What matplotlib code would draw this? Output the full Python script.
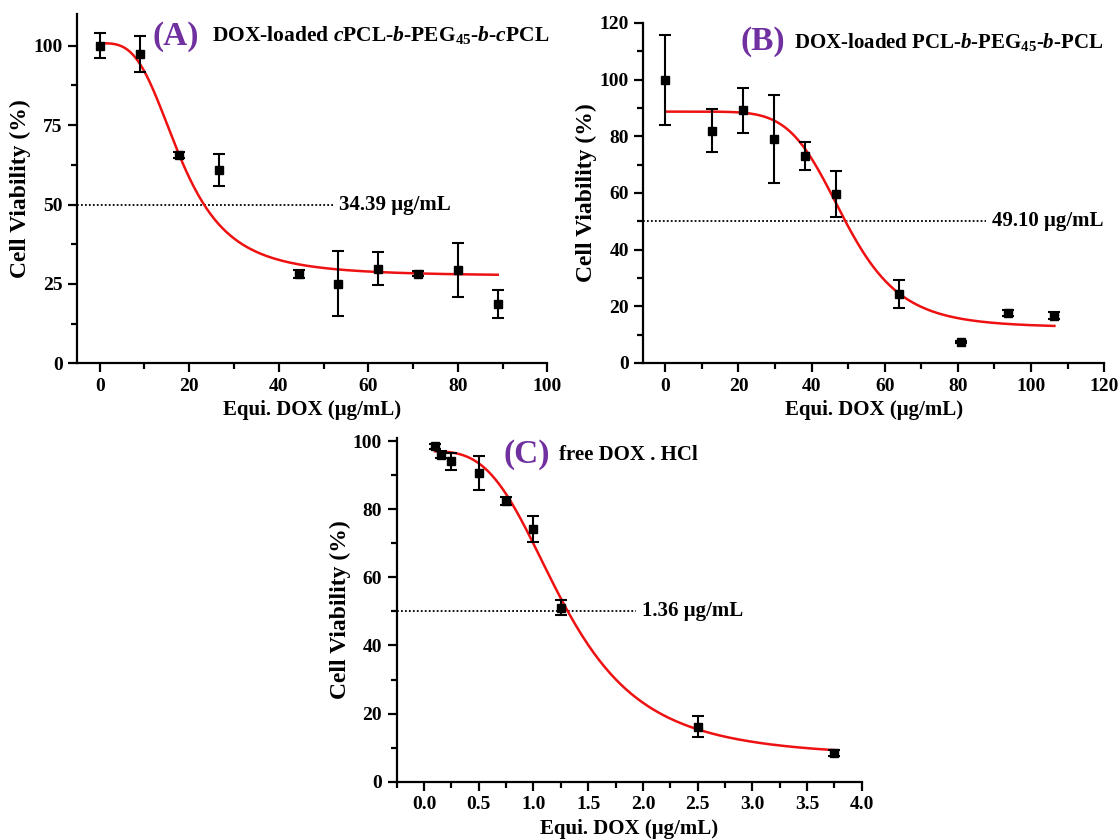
import numpy as np
import matplotlib.pyplot as plt
from matplotlib.ticker import MultipleLocator

plt.rcParams['font.family'] = ['Liberation Serif', 'DejaVu Serif']
plt.rcParams['font.weight'] = 'bold'
plt.rcParams['mathtext.fontset'] = 'custom'
plt.rcParams['mathtext.rm'] = 'Liberation Serif:bold'
plt.rcParams['mathtext.bf'] = 'Liberation Serif:bold'
plt.rcParams['mathtext.it'] = 'Liberation Serif:italic:bold'
plt.rcParams['mathtext.default'] = 'bf'

# panel A: DOX-loaded cPCL-b-PEG45-b-cPCL
dose_A = [0, 8.9, 17.8, 26.7, 44.5, 53.3, 62.2, 71.1, 80.0, 88.9]
via_A = [100.0, 97.5, 65.6, 60.9, 28.2, 25.1, 29.8, 28.2, 29.3, 18.7]
err_A = [4.0, 5.7, 0.8, 5.0, 1.3, 10.2, 5.1, 0.8, 8.5, 4.5]
fit_A = [100.8, 27.5, 18.2, 3.3]   # top, bottom, x0, slope
ic50_A = '34.39 μg/mL'

# panel B: DOX-loaded PCL-b-PEG45-b-PCL
dose_B = [0, 12.8, 21.3, 29.8, 38.3, 46.8, 63.8, 80.9, 93.6, 106.4]
via_B = [99.8, 82.0, 89.2, 79.0, 73.1, 59.6, 24.4, 7.4, 17.6, 16.7]
err_B = [15.8, 7.6, 8.0, 15.5, 5.0, 8.0, 5.0, 0.5, 1.0, 1.3]
fit_B = [88.7, 12.5, 49.0, 6.3]
ic50_B = '49.10 μg/mL'

# panel C: free DOX . HCl
dose_C = [0.1, 0.156, 0.25, 0.5, 0.75, 1.0, 1.25, 2.5, 3.75]
via_C = [98.4, 96.0, 94.1, 90.7, 82.4, 74.1, 51.0, 16.2, 8.4]
err_C = [0.8, 1.0, 2.5, 5.0, 1.3, 3.8, 2.2, 3.2, 0.8]
fit_C = [97.0, 7.0, 1.28, 3.4]
ic50_C = '1.36 μg/mL'

titles = ['(A)', '(B)', '(C)']
subtitles = [r'DOX-loaded $\mathit{c}$PCL-$\mathit{b}$-PEG$_{45}$-$\mathit{b}$-$\mathit{c}$PCL',
             r'DOX-loaded PCL-$\mathit{b}$-PEG$_{45}$-$\mathit{b}$-PCL',
             'free DOX . HCl']


def logistic(x, p):
    return p[1] + (p[0] - p[1]) / (1 + (x / p[2]) ** p[3])


fig = plt.figure(figsize=(11.2, 8.4), dpi=100)
axA = fig.add_axes([0.069, 0.5675, 0.4198, 0.4158])
axB = fig.add_axes([0.5745, 0.5679, 0.4113, 0.4048])
axC = fig.add_axes([0.3542, 0.0694, 0.4152, 0.4096])

panels = [
    (axA, dose_A, via_A, err_A, fit_A, ic50_A, (-5, 100), (0, 110), 20, 10, 25, 12.5, 52, 53.5),
    (axB, dose_B, via_B, err_B, fit_B, ic50_B, (-6, 120), (0, 120), 20, 10, 20, 10, 87.8, 89.3),
    (axC, dose_C, via_C, err_C, fit_C, ic50_C, (-0.25, 4.0), (0, 101), 0.5, 0.25, 20, 10, 1.94, 1.99),
]
# (title x, title y, subtitle x, subtitle y, subtitle size) in axes fraction
title_pos = [(0.21, 0.937, 0.287, 0.94, 15.5), (0.26, 0.944, 0.326, 0.944, 15),
             (0.28, 0.95, 0.35, 0.95, 15)]

for i, (ax, x, y, e, fit, ic, xl, yl, xmaj, xmin, ymaj, ymin, dot_end, txt_x) in enumerate(panels):
    xs = np.linspace(x[0], x[-1], 300)
    ax.plot(xs, logistic(np.maximum(xs, 1e-9), fit), color='#ee1111', lw=1.8, zorder=2)
    ax.errorbar(x, y, yerr=e, fmt='s', color='black', ms=5.5, elinewidth=1.5,
                capsize=4, capthick=1.5, zorder=3)
    ax.plot([xl[0], dot_end], [50, 50], ls=(0, (1, 1.2)), color='black', lw=1.3, zorder=1)
    ax.text(txt_x, 50, ic, fontsize=15, fontweight='bold', va='center', ha='left')
    ax.set_xlim(*xl)
    ax.set_ylim(*yl)
    ax.xaxis.set_major_locator(MultipleLocator(xmaj))
    ax.xaxis.set_minor_locator(MultipleLocator(xmin))
    ax.yaxis.set_major_locator(MultipleLocator(ymaj))
    ax.yaxis.set_minor_locator(MultipleLocator(ymin))
    if i == 2:
        ax.set_xticks(np.arange(0, 4.01, 0.5))
        ax.set_xticklabels(['%.1f' % v for v in np.arange(0, 4.01, 0.5)])
    for s in ['top', 'right']:
        ax.spines[s].set_visible(False)
    for s in ['left', 'bottom']:
        ax.spines[s].set_linewidth(1.6)
    ax.tick_params(which='major', direction='out', length=6.5, width=1.6, labelsize=14, pad=4)
    ax.tick_params(which='minor', direction='out', length=4, width=1.6)
    ax.set_xlabel('Equi. DOX (μg/mL)', fontsize=15, fontweight='bold', labelpad=4)
    ax.set_ylabel('Cell Viability (%)', fontsize=17, fontweight='bold', labelpad=1.5)
    tx, ty, sx, sy, ss = title_pos[i]
    ax.text(tx, ty, titles[i], transform=ax.transAxes, fontsize=24, fontweight='bold',
            color='#7030a0', ha='center', va='center')
    ax.text(sx, sy, subtitles[i], transform=ax.transAxes, fontsize=ss, fontweight='bold',
            ha='left', va='center')

fig.savefig('out.png', dpi=100)
